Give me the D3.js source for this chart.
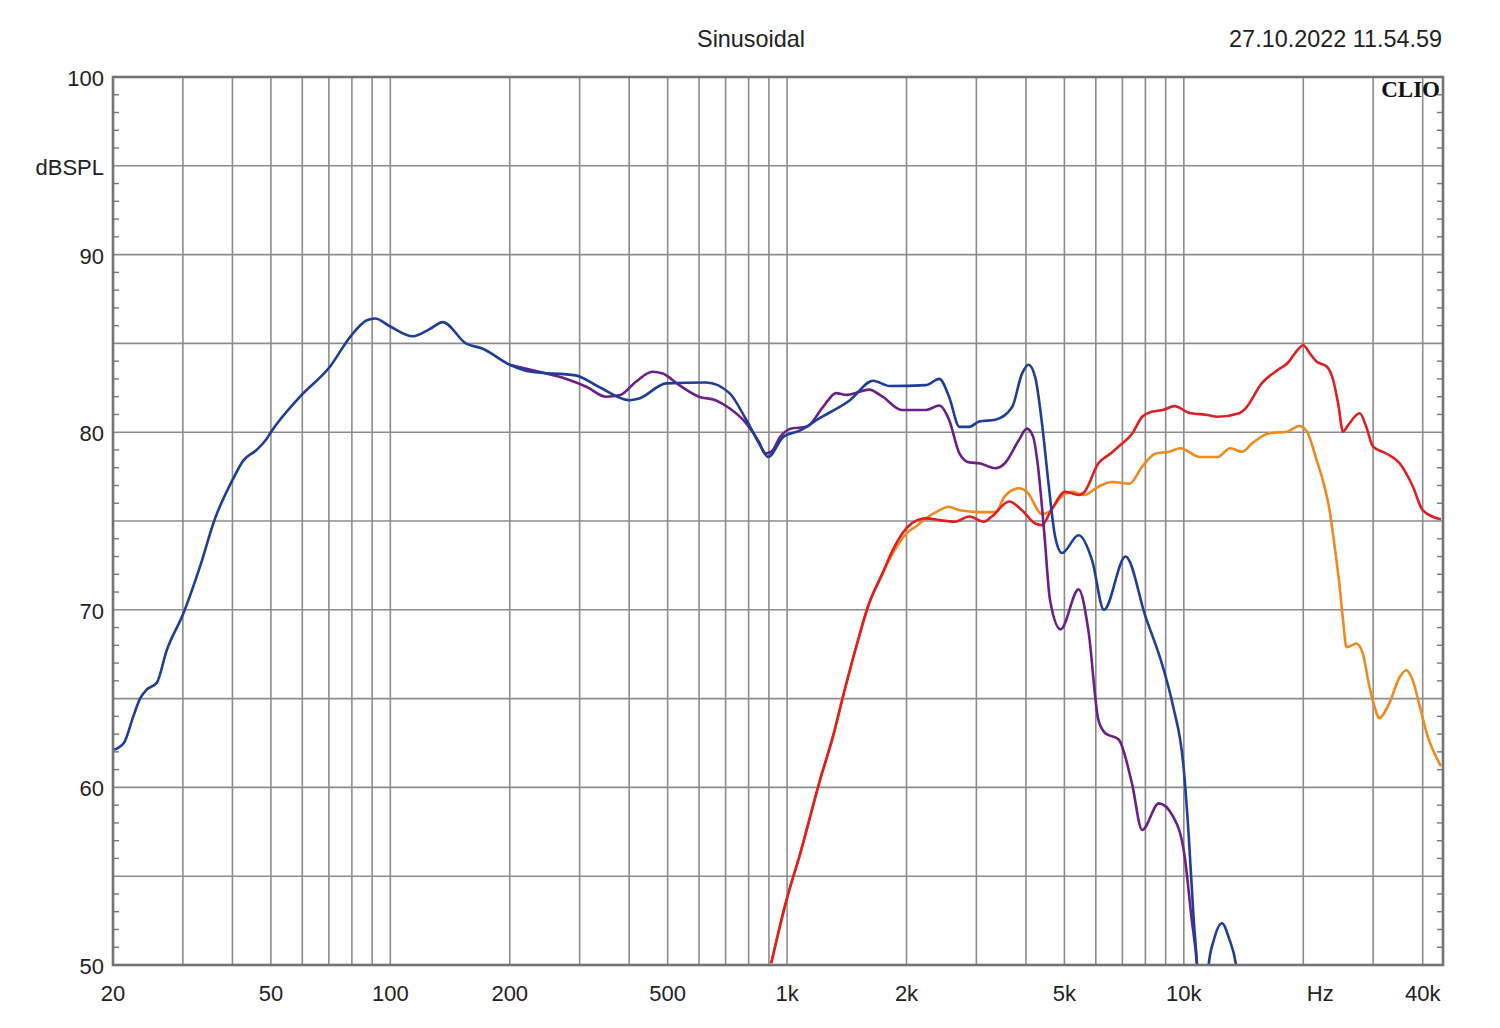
<!DOCTYPE html>
<html>
<head>
<meta charset="utf-8">
<script src="https://cdn.jsdelivr.net/npm/d3@7"></script>
<style>
  html, body { margin: 0; padding: 0; background: #ffffff; }
  svg { display: block; }
  text { font-family: "Liberation Sans", Arial, sans-serif; fill: #222; }
</style>
</head>
<body>
<svg id="chart" width="1500" height="1028"></svg>
<script>
// ---------------- DATA ----------------
const xTickValues = [20, 50, 100, 200, 500, 1000, 2000, 5000, 10000, 20000, 40000];
const xTickLabels = ["20", "50", "100", "200", "500", "1k", "2k", "5k", "10k", "Hz", "40k"];
const yTickValues = [50, 60, 70, 80, 90, 95, 100];
const yTickLabels = ["50", "60", "70", "80", "90", "dBSPL", "100"];

const blueFreq = [20, 21.3, 22.5, 23.4, 24.3, 25.8, 27.3, 30.1, 33.1, 36.1, 40, 42.6, 46, 48.7, 50, 59.2, 70.5, 79.4, 87.3, 91.5, 100, 114, 125.6, 135.6, 155, 171, 200, 227, 293, 335, 400, 424, 496, 625, 716, 789, 869, 895, 980, 1080, 1190, 1440, 1647, 1815, 2240, 2420, 2560, 2720, 2880, 3050, 3350, 3690, 3910, 4060, 4220, 4390, 4560, 4740, 4930, 5430, 5870, 6290, 7130, 8010, 8850, 9400, 9980, 10280, 10580, 10790, 11050, 11300, 11550, 11900, 12480, 13000, 13540, 14000];
const blueDb   = [62.1, 62.5, 64.0, 65.0, 65.5, 65.9, 67.7, 69.8, 72.4, 75.1, 77.3, 78.4, 79.0, 79.6, 80.0, 82.0, 83.7, 85.4, 86.3, 86.4, 85.95, 85.4, 85.8, 86.2, 85.0, 84.7, 83.8, 83.4, 83.2, 82.56, 81.8, 81.9, 82.75, 82.8, 82.2, 80.7, 79.0, 78.6, 79.75, 80.1, 80.7, 81.8, 82.9, 82.6, 82.65, 83.0, 82.0, 80.3, 80.3, 80.6, 80.7, 81.4, 83.3, 83.8, 83.1, 80.5, 77.1, 74.1, 73.2, 74.2, 72.8, 70.0, 73.0, 69.6, 66.8, 64.55, 61.2, 57.4, 52.7, 50.1, 46.0, 46.0, 50.0, 51.4, 52.35, 51.5, 50.0, 47.0];

const purpleFreq = [200, 237, 278, 312, 350, 380, 416, 458, 486, 535, 600, 660, 716, 789, 852, 878, 912, 962, 1020, 1120, 1230, 1330, 1410, 1610, 1740, 1945, 2240, 2420, 2560, 2720, 2880, 3050, 3350, 3540, 3840, 4020, 4170, 4290, 4450, 4600, 4890, 5430, 5750, 6090, 6340, 6850, 7400, 7850, 8650, 9400, 10050, 10450, 10790, 11000];
const purpleDb   = [83.8, 83.4, 83.0, 82.56, 82.0, 82.1, 82.84, 83.4, 83.3, 82.65, 82.0, 81.8, 81.35, 80.5, 79.4, 78.8, 78.9, 79.75, 80.2, 80.3, 81.4, 82.2, 82.1, 82.4, 82.0, 81.25, 81.25, 81.5, 80.7, 78.8, 78.3, 78.25, 77.97, 78.25, 79.56, 80.2, 79.75, 78.06, 74.3, 70.55, 68.9, 71.15, 68.8, 63.8, 63.05, 62.7, 60.23, 57.6, 59.1, 58.35, 56.1, 52.7, 50.0, 47.0];

const redFreq = [912, 995, 1080, 1210, 1310, 1390, 1510, 1600, 1740, 1850, 2000, 2130, 2240, 2420, 2650, 2880, 3130, 3280, 3630, 3910, 4220, 4390, 4630, 5020, 5430, 5600, 6090, 6540, 6850, 7400, 7850, 8300, 8850, 9480, 10290, 11480, 12150, 13800, 14320, 15710, 17240, 18240, 19300, 19980, 20830, 21630, 22910, 23790, 24490, 25200, 25950, 27760, 28830, 29960, 32370, 34980, 37800, 40030, 44460];
const redDb   = [50.1, 53.6, 56.3, 60.4, 63.0, 65.3, 68.3, 70.2, 72.05, 73.4, 74.6, 75.05, 75.15, 75.05, 74.96, 75.25, 74.96, 75.25, 76.1, 75.6, 74.86, 74.77, 75.6, 76.65, 76.46, 76.6, 78.25, 78.8, 79.2, 79.9, 80.87, 81.15, 81.25, 81.47, 81.1, 80.97, 80.87, 81.07, 81.35, 82.75, 83.5, 83.88, 84.6, 84.9, 84.4, 83.97, 83.7, 82.94, 81.6, 80.03, 80.4, 81.07, 80.3, 79.2, 78.8, 78.25, 76.93, 75.6, 75.1];

const orangeFreq = [912, 995, 1080, 1210, 1310, 1390, 1510, 1600, 1740, 1850, 2000, 2130, 2240, 2420, 2560, 2720, 3050, 3350, 3540, 3840, 4020, 4390, 4560, 4930, 5240, 5600, 6090, 6590, 7300, 7850, 8490, 9190, 9790, 10990, 12150, 13100, 14020, 14860, 16340, 18240, 19500, 20440, 21630, 22400, 23300, 24000, 24700, 25200, 25700, 26500, 27200, 28250, 29340, 30440, 31030, 32890, 34980, 36370, 37800, 39340, 40940, 44460];
const orangeDb   = [50.1, 53.6, 56.3, 60.4, 63.0, 65.3, 68.3, 70.2, 72.05, 73.2, 74.3, 74.75, 75.15, 75.6, 75.8, 75.6, 75.5, 75.5, 76.4, 76.84, 76.65, 75.4, 75.5, 76.4, 76.65, 76.46, 76.93, 77.2, 77.1, 78.06, 78.8, 78.9, 79.1, 78.6, 78.6, 79.1, 78.9, 79.37, 79.93, 80.03, 80.35, 80.03, 78.4, 77.3, 75.6, 73.55, 71.3, 69.4, 67.9, 68.0, 68.1, 67.55, 65.7, 64.35, 63.9, 64.7, 66.2, 66.6, 66.0, 64.55, 63.05, 61.2];

const seriesNames  = ["orange", "red", "purple", "blue"];
const seriesColors = ["#f08a1e", "#e01f22", "#6c1f86", "#1f3e98"];

// ---------------- LAYOUT ----------------
const svg = d3.select("#chart");
const pLeft = 113, pRight = 1443, pTop = 77, pBottom = 965;

const x = d3.scaleLog().domain([20, 45000]).range([pLeft, pRight]);
const y = d3.scaleLinear().domain([50, 100]).range([pBottom, pTop]);

// Vertical grid lines (1..9 per decade)
const vGrid = [];
for (let dec = 10; dec <= 10000; dec *= 10) {
  for (let m = 1; m <= 9; m++) {
    const f = dec * m;
    if (f > 20 && f < 45000) vGrid.push(f);
  }
}
const hGrid = d3.range(55, 100, 5);
const minorTicks = d3.range(51, 100, 1).filter(v => v % 5 !== 0);

const gridColor = "#8c8c8c";
const g = svg.append("g");

g.selectAll("line.vg").data(vGrid).enter().append("line")
  .attr("x1", d => x(d)).attr("x2", d => x(d))
  .attr("y1", pTop).attr("y2", pBottom)
  .attr("stroke", gridColor).attr("stroke-width", 1.6);

g.selectAll("line.hg").data(hGrid).enter().append("line")
  .attr("x1", pLeft).attr("x2", pRight)
  .attr("y1", d => y(d)).attr("y2", d => y(d))
  .attr("stroke", gridColor).attr("stroke-width", 1.6);

// minor ticks left & right (inside)
g.selectAll("line.ml").data(minorTicks).enter().append("line")
  .attr("x1", pLeft).attr("x2", pLeft + 6)
  .attr("y1", d => y(d)).attr("y2", d => y(d))
  .attr("stroke", "#777").attr("stroke-width", 1.4);
g.selectAll("line.mr").data(minorTicks).enter().append("line")
  .attr("x1", pRight - 6).attr("x2", pRight)
  .attr("y1", d => y(d)).attr("y2", d => y(d))
  .attr("stroke", "#777").attr("stroke-width", 1.4);

// ---------------- CURVES ----------------
svg.append("clipPath").attr("id", "plotclip")
  .append("rect").attr("x", pLeft).attr("y", pTop)
  .attr("width", pRight - pLeft).attr("height", pBottom - pTop);

const line = d3.line()
  .x(d => x(d[0])).y(d => y(d[1]))
  .curve(d3.curveMonotoneX);

const seriesData = [
  d3.zip(orangeFreq, orangeDb),
  d3.zip(redFreq, redDb),
  d3.zip(purpleFreq, purpleDb),
  d3.zip(blueFreq, blueDb)
];

const curves = svg.append("g").attr("clip-path", "url(#plotclip)");
curves.selectAll("path").data(seriesData).enter().append("path")
  .attr("d", line)
  .attr("fill", "none")
  .attr("stroke", (d, i) => seriesColors[i])
  .attr("stroke-width", 2.6)
  .attr("stroke-linejoin", "round");

// frame
svg.append("rect")
  .attr("x", pLeft).attr("y", pTop)
  .attr("width", pRight - pLeft).attr("height", pBottom - pTop)
  .attr("fill", "none").attr("stroke", "#747474").attr("stroke-width", 2.6);

// ---------------- TEXT ----------------
svg.selectAll("text.xt").data(xTickValues).enter().append("text")
  .attr("x", (d, i) => x(d) + (xTickLabels[i] === "Hz" ? 17 : 0))
  .attr("y", 1001)
  .attr("text-anchor", "middle")
  .style("font-size", "22px")
  .text((d, i) => xTickLabels[i]);

svg.selectAll("text.yt").data(yTickValues).enter().append("text")
  .attr("x", 104)
  .attr("y", d => y(d) + 9)
  .attr("text-anchor", "end")
  .style("font-size", "22px")
  .text((d, i) => yTickLabels[i]);

svg.append("text")
  .attr("x", 751).attr("y", 47)
  .attr("text-anchor", "middle")
  .style("font-size", "23.4px")
  .text("Sinusoidal");

svg.append("text")
  .attr("x", 1442).attr("y", 47)
  .attr("text-anchor", "end")
  .style("font-size", "23.4px")
  .text("27.10.2022 11.54.59");

svg.append("text")
  .attr("x", 1440).attr("y", 97)
  .attr("text-anchor", "end")
  .style("font-family", "'Liberation Serif', 'DejaVu Serif', serif")
  .style("font-weight", "bold")
  .style("font-size", "23px")
  .style("fill", "#111")
  .text("CLIO");
</script>
</body>
</html>
